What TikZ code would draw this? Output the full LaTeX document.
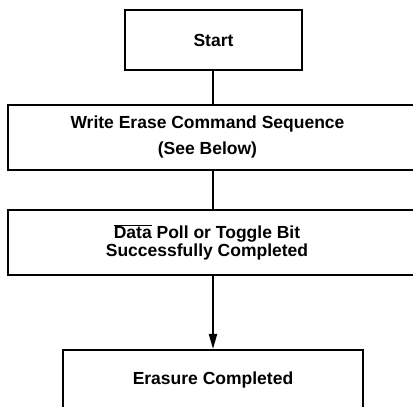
\documentclass[tikz,border=0pt]{standalone}
\usepackage{fontspec}
\setmainfont{Liberation Sans}
\usetikzlibrary{arrows.meta}
\begin{document}
\begin{tikzpicture}[x=1pt,y=1pt,
  box/.style={draw, line width=2pt, rectangle, align=center, inner sep=0pt,
    font=\fontsize{17.5}{19}\selectfont\bfseries},
  txt/.style={align=center, inner sep=0pt, font=\fontsize{17.5}{19}\selectfont\bfseries},
  link/.style={line width=2pt}]
\useasboundingbox (0,0) rectangle (413,407);
\clip (0,0) rectangle (413,407);
\node[box, minimum width=177, minimum height=60] (start) at (213.5,367) {Start};
\node[box, minimum width=410, minimum height=65] (write) at (213,269.5) {};
\node[txt] (writetext) at (207.5,270.5)
  {Write Erase Command Sequence\\[7pt](See Below)};
\node[box, minimum width=410, minimum height=65] (data) at (213,164.5) {};
\node[txt] (datatext) at (207,164.5)
  {$\overline{\mbox{Data}}$ Poll or Toggle Bit\\[-1pt]Successfully Completed};
\node[box, minimum width=300, minimum height=60] (erase) at (213,27)
  {Erasure Completed};
\draw[link] (start.south -| write.north) -- (write.north);
\draw[link] (write) -- (data);
\draw[link, -{Triangle[length=15pt,width=8pt]}] (data) -- (erase);
\end{tikzpicture}
\end{document}
